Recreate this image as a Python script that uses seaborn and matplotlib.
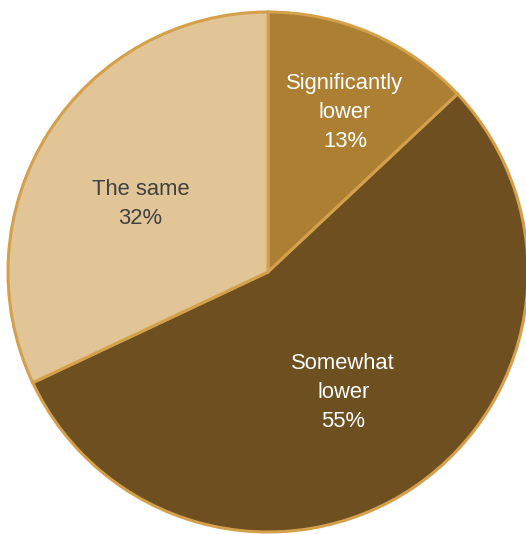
import matplotlib
matplotlib.use("Agg")
import matplotlib.pyplot as plt
import seaborn as sns
import numpy as np

# Data
categories = ["Significantly\nlower", "Somewhat\nlower", "The same"]
shares = [13, 55, 32]
colors = ["#ad7f33", "#6e4f1f", "#e2c597"]
text_colors = ["white", "white", "#404040"]
label_radius = [0.68, 0.546, 0.557]
label_nudge = [-2.4, -2.2, 4.2]  # degrees added to the mid-angle

sns.set_theme(style="white")
plt.rcParams["font.family"] = ["Liberation Sans", "DejaVu Sans"]

fig = plt.figure(figsize=(5.26, 5.34), dpi=100)
ax = fig.add_axes([0, 0, 1, 1])

wedges, _ = ax.pie(
    shares,
    colors=colors,
    startangle=90,
    counterclock=False,
    radius=1.0,
    wedgeprops={"edgecolor": "#d4a04c", "linewidth": 2.2},
)

# Labels along each wedge's mid-angle
for w, cat, val, tc, r, nd in zip(wedges, categories, shares, text_colors,
                                  label_radius, label_nudge):
    ang = np.deg2rad((w.theta1 + w.theta2) / 2 + nd)
    x, y = r * np.cos(ang), r * np.sin(ang)
    ax.text(x, y, f"{cat}\n{val}%", ha="center", va="center",
            color=tc, fontsize=15.8, linespacing=1.5)

# Map pie centre/radius onto the 526x534 canvas
R = 260.0
ax.set_xlim(-268 / R, (526 - 268) / R)
ax.set_ylim(-(534 - 272) / R, 272 / R)
ax.set_aspect("equal")
ax.axis("off")

fig.savefig("out.png", dpi=100)
